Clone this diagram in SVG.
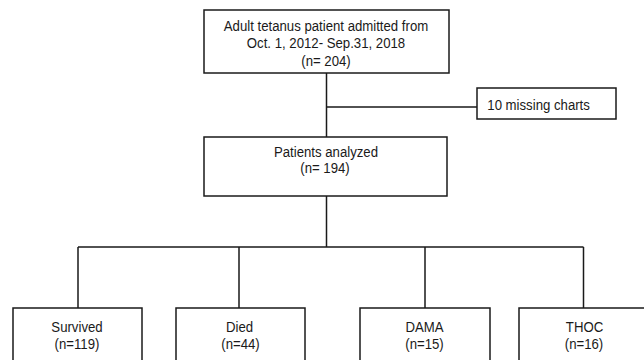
<svg xmlns="http://www.w3.org/2000/svg" width="644" height="360" viewBox="0 0 644 360">
<style>
.box{fill:#fff;stroke:#1a1a1a;stroke-width:1.5}
.ln{fill:none;stroke:#1a1a1a;stroke-width:1.5}
text{font-family:"Liberation Sans",Arial,sans-serif;font-size:15px;fill:#1a1a1a;text-anchor:middle}
</style>
<rect width="644" height="360" fill="#fff"/>
<g id="connectors">
<path class="ln" d="M326.5 73 V137 M326.5 107 H477 M326.5 196 V247 M78 247 H583.5 M78 247 V308 M239 247 V308 M425 247 V308 M583.5 247 V308"/>
</g>
<g id="n-admitted">
<rect class="box" x="204" y="10" width="245" height="63"/>
<text transform="translate(326,31) scale(0.88,1)">Adult tetanus patient admitted from</text>
<text transform="translate(326,48) scale(0.88,1)">Oct. 1, 2012- Sep.31, 2018</text>
<text transform="translate(326,65.5) scale(0.88,1)">(n= 204)</text>
</g>
<g id="n-missing">
<rect class="box" x="477" y="88" width="139" height="31"/>
<text transform="translate(487.3,110) scale(0.88,1)" style="text-anchor:start">10 missing charts</text>
</g>
<g id="n-analyzed">
<rect class="box" x="204" y="137" width="243" height="59"/>
<text transform="translate(326,157) scale(0.88,1)">Patients analyzed</text>
<text transform="translate(325,173) scale(0.88,1)">(n= 194)</text>
</g>
<g id="n-survived">
<rect class="box" x="13" y="308" width="129" height="60"/>
<text transform="translate(77,332) scale(0.88,1)">Survived</text>
<text transform="translate(77,348.5) scale(0.88,1)">(n=119)</text>
</g>
<g id="n-died">
<rect class="box" x="176" y="308" width="129" height="60"/>
<text transform="translate(239.5,332) scale(0.88,1)">Died</text>
<text transform="translate(240.5,348.5) scale(0.88,1)">(n=44)</text>
</g>
<g id="n-dama">
<rect class="box" x="360" y="308" width="130" height="60"/>
<text transform="translate(424.5,332) scale(0.88,1)">DAMA</text>
<text transform="translate(424.5,348.5) scale(0.88,1)">(n=15)</text>
</g>
<g id="n-thoc">
<rect class="box" x="519" y="308" width="130" height="60"/>
<text transform="translate(584.5,332) scale(0.88,1)">THOC</text>
<text transform="translate(584,348.5) scale(0.88,1)">(n=16)</text>
</g>
</svg>
